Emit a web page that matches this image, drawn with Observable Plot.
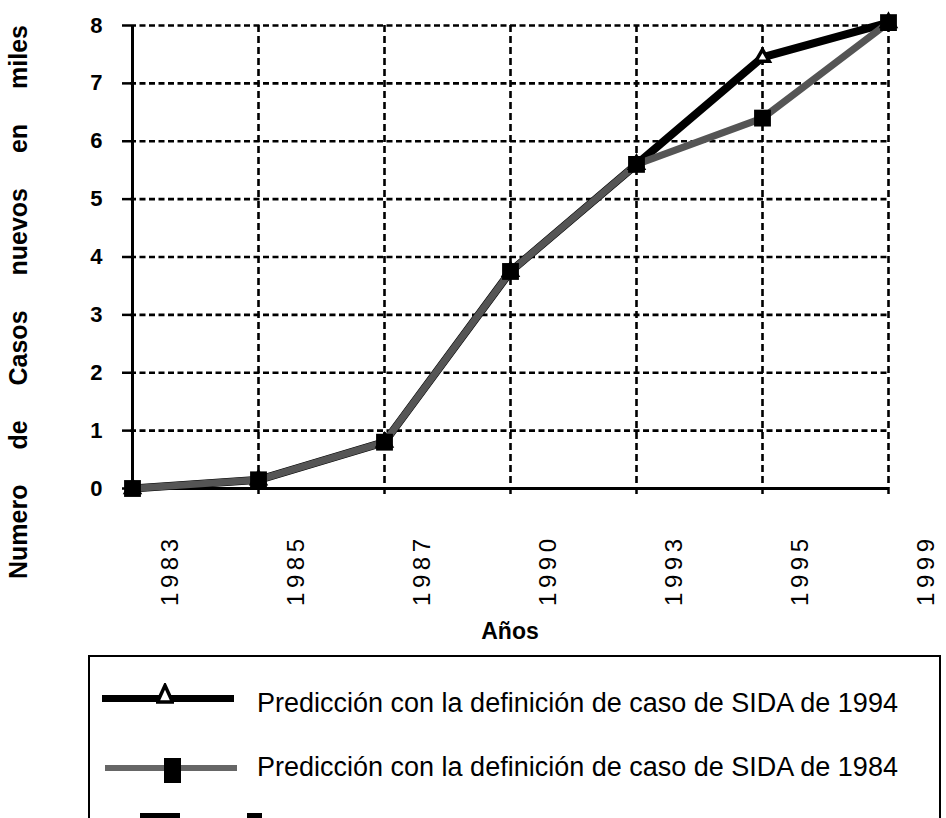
<!DOCTYPE html>
<html>
<head>
<meta charset="utf-8">
<script src="https://cdn.jsdelivr.net/npm/d3@7"></script>
<script src="https://cdn.jsdelivr.net/npm/@observablehq/plot@0.6"></script>
<style>
  body { margin: 0; background: #fff; font-family: "Liberation Sans", Arial, sans-serif; }
  #wrap { position: relative; width: 946px; height: 818px; overflow: hidden; background: #fff; }
  #chart { position: absolute; left: 0; top: 0; }
  #legend { position: absolute; left: 88px; top: 655px; width: 849px; height: 220px;
            border-top: 2.5px solid #000; border-right: 2.5px solid #000; border-left: 2px solid #000; }
  #legend .abs { position: absolute; }
  #legend .lbl { position: absolute; font-size: 27px; line-height: 27px; white-space: nowrap; color: #000; }
</style>
</head>
<body>
<div id="wrap">
  <div id="chart"></div>
  <div id="legend"></div>
</div>
<script>
// ---- data ----
const years = ["1983", "1985", "1987", "1990", "1993", "1995", "1999"];
const pred1994 = [0, 0.15, 0.8, 3.75, 5.6, 7.45, 8.05];
const pred1984 = [0, 0.15, 0.8, 3.75, 5.6, 6.4, 8.05];
const yTicks = [0, 1, 2, 3, 4, 5, 6, 7, 8];
const yLabel = "Numero de Casos nuevos en miles";
const xLabel = "Años";
const legendLabels = [
  "Predicción con la definición de caso de SIDA de 1994",
  "Predicción con la definición de caso de SIDA de 1984"
];

const rows = years.map((year, i) => ({year, v94: pred1994[i], v84: pred1984[i]}));

const plot = Plot.plot({
  width: 946,
  height: 655,
  marginLeft: 130,
  marginRight: 57,
  marginTop: 25,
  marginBottom: 167,
  style: {fontFamily: "Liberation Sans, Arial, sans-serif", background: "#fff", color: "#000", overflow: "visible"},
  x: {type: "point", domain: years, padding: 0},
  y: {domain: [0, 8]},
  marks: [
    Plot.gridY(yTicks.slice(1), {stroke: "#000", strokeOpacity: 1, strokeWidth: 2.6, strokeDasharray: "6,3.5"}),
    Plot.gridX(years.slice(1), {stroke: "#000", strokeOpacity: 1, strokeWidth: 2.6, strokeDasharray: "7,4"}),
    Plot.ruleY([0], {stroke: "#000", strokeWidth: 2.8}),
    Plot.ruleX([years[0]], {y1: 0, y2: 8, stroke: "#000", strokeWidth: 3}),
    Plot.axisY(yTicks, {tickSize: 8, tickPadding: 20, fontSize: 22, fontWeight: "bold", strokeWidth: 2.5,
                        label: null, tickFormat: d3.format("d")}),
    Plot.axisX(years, {tickSize: 6, tickFormat: () => "", strokeWidth: 2.5, label: null}),
    Plot.text(years, {x: d => d, text: d => d, frameAnchor: "bottom", rotate: -90, textAnchor: "end",
                      dx: 45, dy: 46, fontSize: 24, fill: "#000"}),
    Plot.text([yLabel], {text: d => d, frameAnchor: "left", textAnchor: "middle", rotate: -90, dx: -112, dy: 45,
                         fontSize: 25, fontWeight: "bold", fill: "#000"}),
    Plot.text([xLabel], {text: d => d, frameAnchor: "bottom", textAnchor: "middle", dy: 150, fontSize: 23,
                         fontWeight: "bold", fill: "#000"}),
    Plot.line(rows, {x: "year", y: "v94", stroke: "#000", strokeWidth: 8, strokeLinejoin: "round"}),
    Plot.line(rows, {x: "year", y: "v84", stroke: "#555", strokeWidth: 7, strokeLinejoin: "round"}),
    Plot.dot(rows, {x: "year", y: "v94", symbol: "triangle", r: 5, fill: "#fff", stroke: "#000", strokeWidth: 3.5}),
    Plot.dot(rows, {x: "year", y: "v84", symbol: "square", r: 9.5, fill: "#000"})
  ]
});

d3.select(plot).selectAll('g[aria-label="text"] text')
  .filter(function() { return years.includes(this.textContent); })
  .style("letter-spacing", "4.5px");
d3.select(plot).selectAll('g[aria-label="text"] text')
  .filter(function() { return this.textContent === yLabel; })
  .style("word-spacing", "28px");

document.getElementById("chart").appendChild(plot);

// ---- legend ----
const legend = document.getElementById("legend");
legend.innerHTML = `
  <div class="abs" style="left:12px;top:38px;width:132px;height:7px;background:#000"></div>
  <svg class="abs" style="left:66px;top:26px" width="18" height="21">
    <polygon points="9,2.5 16.5,19 1.5,19" fill="#fff" stroke="#000" stroke-width="3.5" stroke-linejoin="miter"/>
  </svg>
  <div class="lbl" style="left:167px;top:33px">${legendLabels[0]}</div>
  <div class="abs" style="left:15px;top:107.5px;width:132px;height:6px;background:#666"></div>
  <div class="abs" style="left:74px;top:100.5px;width:17px;height:25px;background:#000"></div>
  <div class="lbl" style="left:167px;top:97px">${legendLabels[1]}</div>
  <div class="abs" style="left:50px;top:155.5px;width:40px;height:5px;background:#000"></div>
  <div class="abs" style="left:157px;top:155.5px;width:15px;height:5px;background:#000"></div>
`;
</script>
</body>
</html>
